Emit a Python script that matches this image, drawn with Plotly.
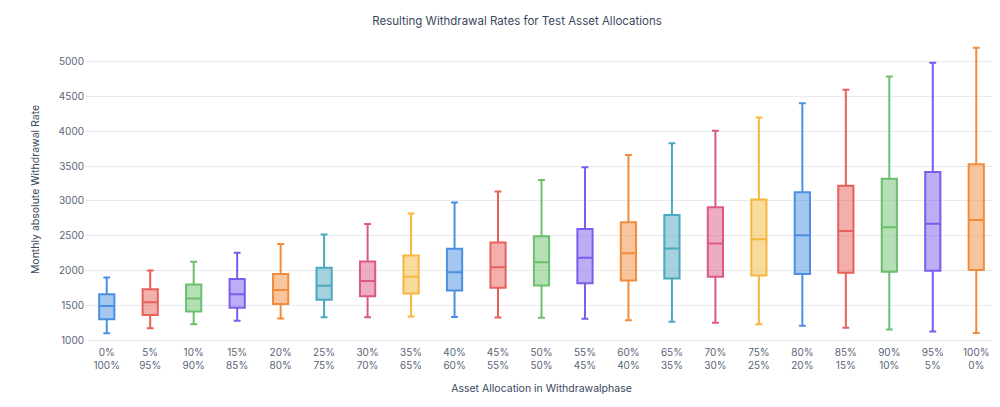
import plotly.graph_objects as go

stock = ["0%", "5%", "10%", "15%", "20%", "25%", "30%", "35%", "40%", "45%", "50%",
         "55%", "60%", "65%", "70%", "75%", "80%", "85%", "90%", "95%", "100%"]
bonds = ["100%", "95%", "90%", "85%", "80%", "75%", "70%", "65%", "60%", "55%", "50%",
         "45%", "40%", "35%", "30%", "25%", "20%", "15%", "10%", "5%", "0%"]

lower = [1100, 1170, 1230, 1280, 1310, 1330, 1330, 1340, 1331, 1326, 1321,
         1307, 1287, 1263, 1250, 1230, 1206, 1177, 1153, 1125, 1101]
q1 = [1300, 1360, 1410, 1465, 1520, 1580, 1630, 1671, 1714, 1752, 1786,
      1819, 1857, 1886, 1910, 1930, 1950, 1969, 1983, 1998, 2007]
median = [1490, 1545, 1600, 1660, 1720, 1780, 1850, 1910, 1977, 2049, 2121,
          2183, 2250, 2317, 2390, 2450, 2506, 2568, 2621, 2674, 2727]
q3 = [1660, 1730, 1800, 1880, 1950, 2040, 2130, 2217, 2312, 2404, 2494,
      2599, 2695, 2800, 2910, 3020, 3125, 3220, 3321, 3417, 3528]
upper = [1900, 2000, 2125, 2255, 2380, 2520, 2670, 2820, 2978, 3136, 3303,
         3486, 3660, 3830, 4010, 4200, 4406, 4597, 4789, 4986, 5201]

palette = ["#4a90e2", "#e8605a", "#6cbf6c", "#7b5cec", "#f28c3c", "#4aa8bf", "#db5a84", "#f5b83d"]

def rgba(h, a):
    h = h.lstrip("#")
    r, g, b = int(h[0:2], 16), int(h[2:4], 16), int(h[4:6], 16)
    return f"rgba({r},{g},{b},{a})"

labels = [f"{s}<br>{b}" for s, b in zip(stock, bonds)]

fig = go.Figure()
for i, lab in enumerate(labels):
    c = palette[i % len(palette)]
    fig.add_trace(go.Box(
        x=[lab], q1=[q1[i]], median=[median[i]], q3=[q3[i]],
        lowerfence=[lower[i]], upperfence=[upper[i]],
        name=lab, line=dict(color=c, width=2), fillcolor=rgba(c, 0.5),
        whiskerwidth=0.45, boxpoints=False, showlegend=False, hoverinfo="y",
    ))

font = "Inter, Noto Sans, sans-serif"
fig.update_layout(
    width=1000, height=407,
    margin=dict(l=77, r=10, t=26, b=70),
    paper_bgcolor="white", plot_bgcolor="white",
    boxmode="overlay", boxgap=0.5,
    font=dict(family=font, size=10, color="#5a6478"),
    title=dict(text="Resulting Withdrawal Rates for Test Asset Allocations",
               x=0.509, xanchor="center", y=0.968, yanchor="middle",
               font=dict(size=11.5, color="#3a4860", family=font)),
    xaxis=dict(type="category", categoryorder="array", categoryarray=labels,
               showgrid=False, zeroline=False, showline=False, ticks="",
               tickfont=dict(size=10, color="#5a6478"),
               title=dict(text="Asset Allocation in Withdrawalphase",
                          font=dict(size=10.5, color="#3a4860"), standoff=14)),
    yaxis=dict(range=[930, 5400], tickvals=[1000, 1500, 2000, 2500, 3000, 3500, 4000, 4500, 5000],
               showgrid=True, gridcolor="#e9eaef", gridwidth=1, zeroline=False, showline=False,
               ticks="", tickfont=dict(size=10, color="#5a6478"),
               title=dict(text="Monthly absolute Withdrawal Rate",
                          font=dict(size=10.5, color="#3a4860"), standoff=16)),
)

fig.write_html("out.html")
